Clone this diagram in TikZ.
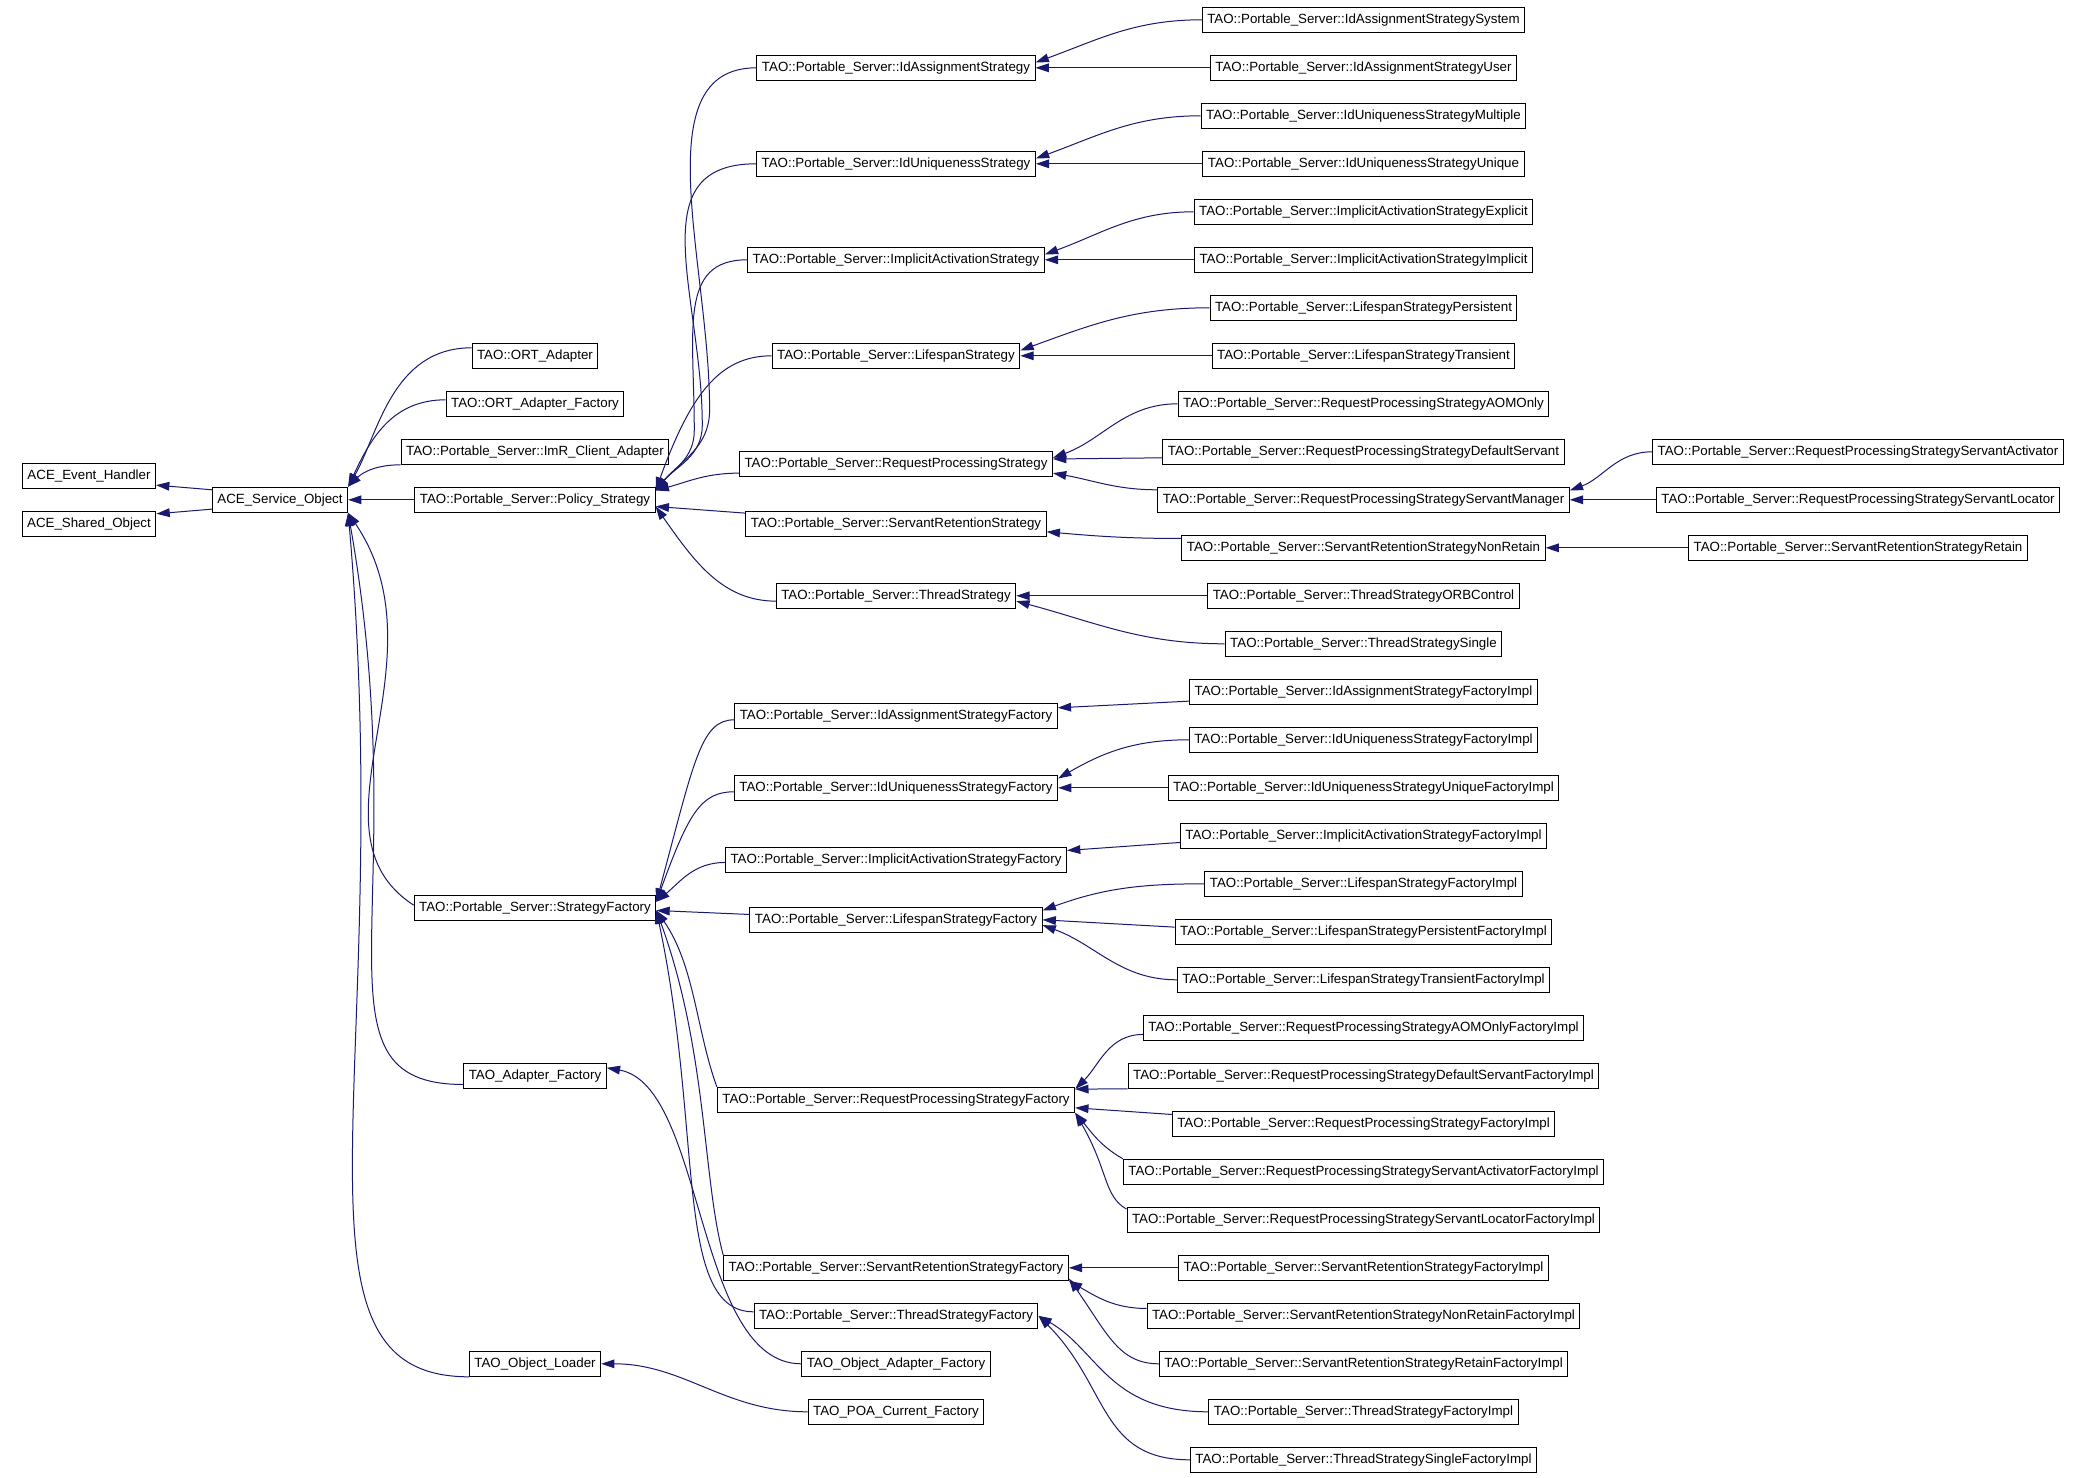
\documentclass[tikz,border=0pt]{standalone}
\usepackage{fontspec}
\setmainfont{Liberation Sans}
\usetikzlibrary{arrows.meta}
\definecolor{kante}{HTML}{191970}
\newcommand{\tps}{TAO::Portable\_Server::}
\tikzset{
	klasse/.style={draw=black, line width=0.75pt, fill=white, inner xsep=3.75pt, inner ysep=0pt, minimum height=18.75pt, font=\fontsize{10}{12}\selectfont},
	erbt/.style={draw=kante, line width=0.75pt, -{Triangle[length=10pt,width=6.5pt]}},
}

\begin{document}
\begin{tikzpicture}[x=0.75pt, y=-36pt]
	\useasboundingbox[fill=white] (0,-0.4125) rectangle (2078,30.379);
	
	% Basisklassen
	\node[klasse] (eh) at (89,9.5) {ACE\_Event\_Handler};
	\node[klasse] (sho) at (89,10.5) {ACE\_Shared\_Object};
	\node[klasse] (so) at (280,10) {ACE\_Service\_Object};
	
	\node[klasse] (ort) at (535,7) {TAO::ORT\_Adapter};
	\node[klasse] (ortf) at (535,8) {TAO::ORT\_Adapter\_Factory};
	\node[klasse] (imr) at (535,9) {\tps ImR\_Client\_Adapter};
	\node[klasse] (ps) at (535,10) {\tps Policy\_Strategy};
	\node[klasse] (sf) at (535,18.5) {\tps StrategyFactory};
	\node[klasse] (taf) at (535,22) {TAO\_Adapter\_Factory};
	\node[klasse] (tol) at (535,28) {TAO\_Object\_Loader};
	
	% Strategien
	\node[klasse] (ias) at (896,1) {\tps IdAssignmentStrategy};
	\node[klasse] (ius) at (896,3) {\tps IdUniquenessStrategy};
	\node[klasse] (imas) at (896,5) {\tps ImplicitActivationStrategy};
	\node[klasse] (ls) at (896,7) {\tps LifespanStrategy};
	\node[klasse] (rps) at (896,9.25) {\tps RequestProcessingStrategy};
	\node[klasse] (srs) at (896,10.5) {\tps ServantRetentionStrategy};
	\node[klasse] (ts) at (896,12) {\tps ThreadStrategy};
	
	% Fabriken
	\node[klasse] (iasf) at (896,14.5) {\tps IdAssignmentStrategyFactory};
	\node[klasse] (iusf) at (896,16) {\tps IdUniquenessStrategyFactory};
	\node[klasse] (imasf) at (896,17.5) {\tps ImplicitActivationStrategyFactory};
	\node[klasse] (lsf) at (896,18.75) {\tps LifespanStrategyFactory};
	\node[klasse] (rpsf) at (896,22.5) {\tps RequestProcessingStrategyFactory};
	\node[klasse] (srsf) at (896,26) {\tps ServantRetentionStrategyFactory};
	\node[klasse] (tsf) at (896,27) {\tps ThreadStrategyFactory};
	\node[klasse] (oaf) at (896,28) {TAO\_Object\_Adapter\_Factory};
	\node[klasse] (poa) at (896,29) {TAO\_POA\_Current\_Factory};
	
	% Implementierungen
	\node[klasse] (iasSys) at (1363.5,0) {\tps IdAssignmentStrategySystem};
	\node[klasse] (iasUser) at (1363.5,1) {\tps IdAssignmentStrategyUser};
	\node[klasse] (iusMul) at (1363.5,2) {\tps IdUniquenessStrategyMultiple};
	\node[klasse] (iusUni) at (1363.5,3) {\tps IdUniquenessStrategyUnique};
	\node[klasse] (imasExp) at (1363.5,4) {\tps ImplicitActivationStrategyExplicit};
	\node[klasse] (imasImp) at (1363.5,5) {\tps ImplicitActivationStrategyImplicit};
	\node[klasse] (lsPer) at (1363.5,6) {\tps LifespanStrategyPersistent};
	\node[klasse] (lsTra) at (1363.5,7) {\tps LifespanStrategyTransient};
	\node[klasse] (rpsAom) at (1363.5,8) {\tps RequestProcessingStrategyAOMOnly};
	\node[klasse] (rpsDef) at (1363.5,9) {\tps RequestProcessingStrategyDefaultServant};
	\node[klasse] (rpsMgr) at (1363.5,10) {\tps RequestProcessingStrategyServantManager};
	\node[klasse] (srsNon) at (1363.5,11) {\tps ServantRetentionStrategyNonRetain};
	\node[klasse] (tsOrb) at (1363.5,12) {\tps ThreadStrategyORBControl};
	\node[klasse] (tsSin) at (1363.5,13) {\tps ThreadStrategySingle};
	\node[klasse] (iasfImpl) at (1363.5,14) {\tps IdAssignmentStrategyFactoryImpl};
	\node[klasse] (iusfImpl) at (1363.5,15) {\tps IdUniquenessStrategyFactoryImpl};
	\node[klasse] (iusfUni) at (1363.5,16) {\tps IdUniquenessStrategyUniqueFactoryImpl};
	\node[klasse] (imasfImpl) at (1363.5,17) {\tps ImplicitActivationStrategyFactoryImpl};
	\node[klasse] (lsfImpl) at (1363.5,18) {\tps LifespanStrategyFactoryImpl};
	\node[klasse] (lsfPer) at (1363.5,19) {\tps LifespanStrategyPersistentFactoryImpl};
	\node[klasse] (lsfTra) at (1363.5,20) {\tps LifespanStrategyTransientFactoryImpl};
	\node[klasse] (rpsfAom) at (1363.5,21) {\tps RequestProcessingStrategyAOMOnlyFactoryImpl};
	\node[klasse] (rpsfDef) at (1363.5,22) {\tps RequestProcessingStrategyDefaultServantFactoryImpl};
	\node[klasse] (rpsfImpl) at (1363.5,23) {\tps RequestProcessingStrategyFactoryImpl};
	\node[klasse] (rpsfAct) at (1363.5,24) {\tps RequestProcessingStrategyServantActivatorFactoryImpl};
	\node[klasse] (rpsfLoc) at (1363.5,25) {\tps RequestProcessingStrategyServantLocatorFactoryImpl};
	\node[klasse] (srsfImpl) at (1363.5,26) {\tps ServantRetentionStrategyFactoryImpl};
	\node[klasse] (srsfNon) at (1363.5,27) {\tps ServantRetentionStrategyNonRetainFactoryImpl};
	\node[klasse] (srsfRet) at (1363.5,28) {\tps ServantRetentionStrategyRetainFactoryImpl};
	\node[klasse] (tsfImpl) at (1363.5,29) {\tps ThreadStrategyFactoryImpl};
	\node[klasse] (tsfSin) at (1363.5,30) {\tps ThreadStrategySingleFactoryImpl};
	
	\node[klasse] (rpsAct) at (1858,9) {\tps RequestProcessingStrategyServantActivator};
	\node[klasse] (rpsLoc) at (1858,10) {\tps RequestProcessingStrategyServantLocator};
	\node[klasse] (srsRet) at (1858,11) {\tps ServantRetentionStrategyRetain};
	
	% Vererbung links
	\draw[erbt] ([yshift=7.5pt]so.west) -- ([yshift=-7pt]eh.east);
	\draw[erbt] ([yshift=-7pt]so.west) -- ([yshift=7.5pt]sho.east);
	
	\draw[erbt] ([yshift=6pt]ort.west) to[out=180,in=60,out distance=60pt,in distance=45pt] (so.north east);
	\draw[erbt] ([yshift=3pt]ortf.west) to[out=180,in=65,out distance=40pt,in distance=40pt] (so.north east);
	\draw[erbt] (imr.south west) to[out=180,in=45] (so.north east);
	\draw[erbt] (ps.west) -- (so.east);
	\draw[erbt] ([yshift=2pt]sf.west) to[out=147,in=-56,out distance=102pt,in distance=134pt] (so.south east);
	\draw[erbt] ([yshift=-6.5pt]taf.west) to[out=180,in=-80,out distance=121pt,in distance=300pt] (so.south east);
	\draw[erbt] (tol.south west) to[out=180,in=-85,out distance=149pt,in distance=420pt] (so.south east);
	
	% Policy_Strategy
	\draw[erbt] (ias.west) to[out=180,in=90,out distance=85pt,in distance=110pt] ([xshift=40.5pt,yshift=67.5pt]ps.east)
		to[out=-90,in=50] ([yshift=7pt]ps.east);
	\draw[erbt] (ius.west) to[out=180,in=90,out distance=88pt,in distance=97pt] ([xshift=35pt,yshift=56pt]ps.east)
		to[out=-90,in=50] ([yshift=7pt]ps.east);
	\draw[erbt] (imas.west) to[out=180,in=90,out distance=52pt,in distance=75pt] ([xshift=29pt,yshift=52pt]ps.east)
		to[out=-90,in=50] ([yshift=7pt]ps.east);
	\draw[erbt] (ls.west) to[out=180,in=70,out distance=40pt,in distance=75pt] ([yshift=7pt]ps.east);
	\draw[erbt] ([yshift=-7pt]rps.west) to[out=180,in=15] ([yshift=7pt]ps.east);
	\draw[erbt] ([yshift=8pt]srs.west) -- ([yshift=-5pt]ps.east);
	\draw[erbt] ([yshift=-4pt]ts.west) to[out=180,in=-55,out distance=40pt,in distance=50pt] ([yshift=-5pt]ps.east);
	
	% StrategyFactory
	\draw[erbt] ([yshift=-3pt]iasf.west) to[out=180,in=75,out distance=25pt,in distance=110pt] ([yshift=4.5pt]sf.east);
	\draw[erbt] ([yshift=-3pt]iusf.west) to[out=180,in=70,out distance=25pt,in distance=70pt] ([yshift=4.5pt]sf.east);
	\draw[erbt] ([yshift=-2pt]imasf.west) to[out=180,in=40] ([yshift=4.5pt]sf.east);
	\draw[erbt] ([yshift=4pt]lsf.west) -- ([yshift=-2pt]sf.east);
	\draw[erbt] (rpsf.north west) to[out=110,in=-55,out distance=45pt,in distance=50pt] ([yshift=-2pt]sf.east);
	\draw[erbt] (srsf.north west) to[out=105,in=-70,out distance=60pt,in distance=112pt] ([yshift=-2pt]sf.east);
	\draw[erbt] ([yshift=3pt]tsf.west) to[out=180,in=-78,out distance=60pt,in distance=170pt] ([yshift=-2pt]sf.east);
	
	\draw[erbt] (oaf.west) to[out=180,in=-10,out distance=80pt,in distance=75pt] ([yshift=6pt]taf.east);
	\draw[erbt] (poa.west) to[out=180,in=0] (tol.east);
	
	% Strategien rechts
	\draw[erbt] (iasSys.west) to[out=180,in=20] ([yshift=4pt]ias.east);
	\draw[erbt] (iasUser.west) -- (ias.east);
	\draw[erbt] (iusMul.west) to[out=180,in=20] ([yshift=4pt]ius.east);
	\draw[erbt] (iusUni.west) -- (ius.east);
	\draw[erbt] (imasExp.west) to[out=180,in=20] ([yshift=4pt]imas.east);
	\draw[erbt] (imasImp.west) -- (imas.east);
	\draw[erbt] (lsPer.west) to[out=180,in=20] ([yshift=4pt]ls.east);
	\draw[erbt] (lsTra.west) -- (ls.east);
	\draw[erbt] (rpsAom.west) to[out=180,in=20] ([yshift=4.5pt]rps.east);
	\draw[erbt] ([yshift=-4.5pt]rpsDef.west) -- ([yshift=3.6pt]rps.east);
	\draw[erbt] ([yshift=7.5pt]rpsMgr.west) to[out=180,in=-10] ([yshift=-7pt]rps.east);
	\draw[erbt] ([yshift=7pt]srsNon.west) to[out=180,in=-5] ([yshift=-6pt]srs.east);
	\draw[erbt] (tsOrb.west) -- (ts.east);
	\draw[erbt] (tsSin.west) to[out=180,in=-15] ([yshift=-4pt]ts.east);
	
	\draw[erbt] (rpsAct.west) to[out=180,in=20] ([yshift=7pt]rpsMgr.east);
	\draw[erbt] (rpsLoc.west) -- (rpsMgr.east);
	\draw[erbt] (srsRet.west) -- (srsNon.east);
	
	% Fabriken rechts
	\draw[erbt] ([yshift=-7pt]iasfImpl.west) -- ([yshift=6pt]iasf.east);
	\draw[erbt] (iusfImpl.west) to[out=180,in=30] ([yshift=7pt]iusf.east);
	\draw[erbt] (iusfUni.west) -- (iusf.east);
	\draw[erbt] ([yshift=-5pt]imasfImpl.west) -- ([yshift=7pt]imasf.east);
	\draw[erbt] (lsfImpl.west) to[out=180,in=20] ([yshift=7pt]lsf.east);
	\draw[erbt] ([yshift=3.5pt]lsfPer.west) -- (lsf.east);
	\draw[erbt] (lsfTra.west) to[out=180,in=-20] ([yshift=-4pt]lsf.east);
	\draw[erbt] ([yshift=-5pt]rpsfAom.west) to[out=180,in=45] ([yshift=8pt]rpsf.east);
	\draw[erbt] (rpsfDef.south west) -- ([yshift=8pt]rpsf.east);
	\draw[erbt] ([yshift=7pt]rpsfImpl.west) -- ([yshift=-6pt]rpsf.east);
	\draw[erbt] (rpsfAct.north west) to[out=150,in=-50] (rpsf.south east);
	\draw[erbt] ([yshift=8pt]rpsfLoc.west) to[out=150,in=-60,out distance=20pt,in distance=50pt] (rpsf.south east);
	\draw[erbt] (srsfImpl.west) -- (srsf.east);
	\draw[erbt] ([yshift=5.5pt]srsfNon.west) to[out=180,in=-30] (srsf.south east);
	\draw[erbt] (srsfRet.west) to[out=180,in=-55,out distance=30pt,in distance=50pt] ([yshift=-8pt]srsf.east);
	\draw[erbt] (tsfImpl.west) to[out=180,in=-30,out distance=75pt,in distance=52pt] (tsf.east);
	\draw[erbt] (tsfSin.west) to[out=180,in=-45,out distance=68pt,in distance=75pt] (tsf.east);
\end{tikzpicture}
\end{document}
